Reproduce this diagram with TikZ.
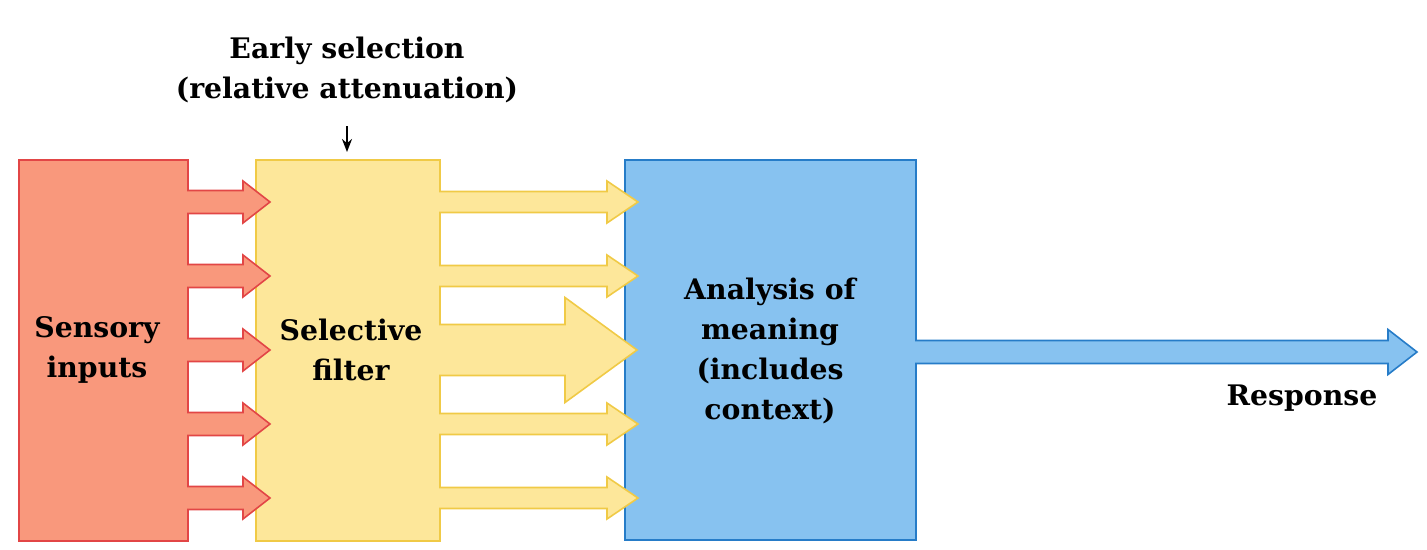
\documentclass[tikz,border=0pt]{standalone}
\usepackage{fontspec}
\setmainfont{DejaVu Serif}
\usetikzlibrary{arrows.meta}
\definecolor{redfill}{RGB}{249,152,124}
\definecolor{redline}{RGB}{226,70,70}
\definecolor{yelfill}{RGB}{253,231,154}
\definecolor{yelline}{RGB}{240,202,70}
\definecolor{blufill}{RGB}{135,194,240}
\definecolor{bluline}{RGB}{38,124,200}
\tikzset{
  boxstyle/.style={draw=#1line, fill=#1fill, line width=1.6pt, inner sep=0pt, anchor=north west},
  lbl/.style={align=center, font=\fontsize{28.3}{40}\selectfont\bfseries, text=black, inner sep=0pt},
}
% block arrow: #1 colour prefix, #2 start x, #3 tip x, #4 y, #5 shaft half, #6 head half, #7 head length
\newcommand\blockarrow[7]{%
  \fill[#1fill] (#2-2,#4-#5) -- (#3-#7,#4-#5) -- (#3-#7,#4-#6) -- (#3,#4) -- (#3-#7,#4+#6) -- (#3-#7,#4+#5) -- (#2-2,#4+#5) -- cycle;
  \draw[#1line, line width=1.6pt, line join=miter] (#2,#4-#5) -- (#3-#7,#4-#5) -- (#3-#7,#4-#6) -- (#3,#4) -- (#3-#7,#4+#6) -- (#3-#7,#4+#5) -- (#2,#4+#5);
}
\begin{document}
\begin{tikzpicture}[x=1pt,y=-1pt]
\useasboundingbox (0,0) rectangle (1427,549);
% boxes
\node[boxstyle=red, minimum width=169pt, minimum height=381pt] (sens) at (18,159) {};
\node[boxstyle=yel, minimum width=184pt, minimum height=381pt] (filt) at (255,159) {};
% red arrows
\foreach \yy in {202,276,350,424,498} {\blockarrow{red}{187}{270}{\yy}{11.5}{21}{27}}
\node[boxstyle=blu, minimum width=291pt, minimum height=380pt] (anal) at (624,159) {};
% yellow arrows
\foreach \yy in {202,276,424,498} {\blockarrow{yel}{439}{638}{\yy}{10.5}{21}{31}}
\blockarrow{yel}{439}{637}{350}{25.5}{52.5}{72}
% response arrow
\blockarrow{blu}{915}{1417}{352}{11.5}{22.5}{29}
% labels
\node[lbl] (sensl) at (97,350) {Sensory\\inputs};
\node[lbl] (filtl) at (351,350) {Selective\\filter};
\node[lbl] (anall) at (770,351) {Analysis of\\meaning\\(includes\\context)};
\node[lbl] (resp) at (1302,398) {Response};
\node[lbl] (early) at (347,70) {Early selection\\(relative attenuation)};
\draw[line width=2pt, -{Stealth[length=13pt,width=10pt]}] (early.south |- 0,126) -- ([yshift=7pt]filt.north -| early.south);
\end{tikzpicture}
\end{document}
